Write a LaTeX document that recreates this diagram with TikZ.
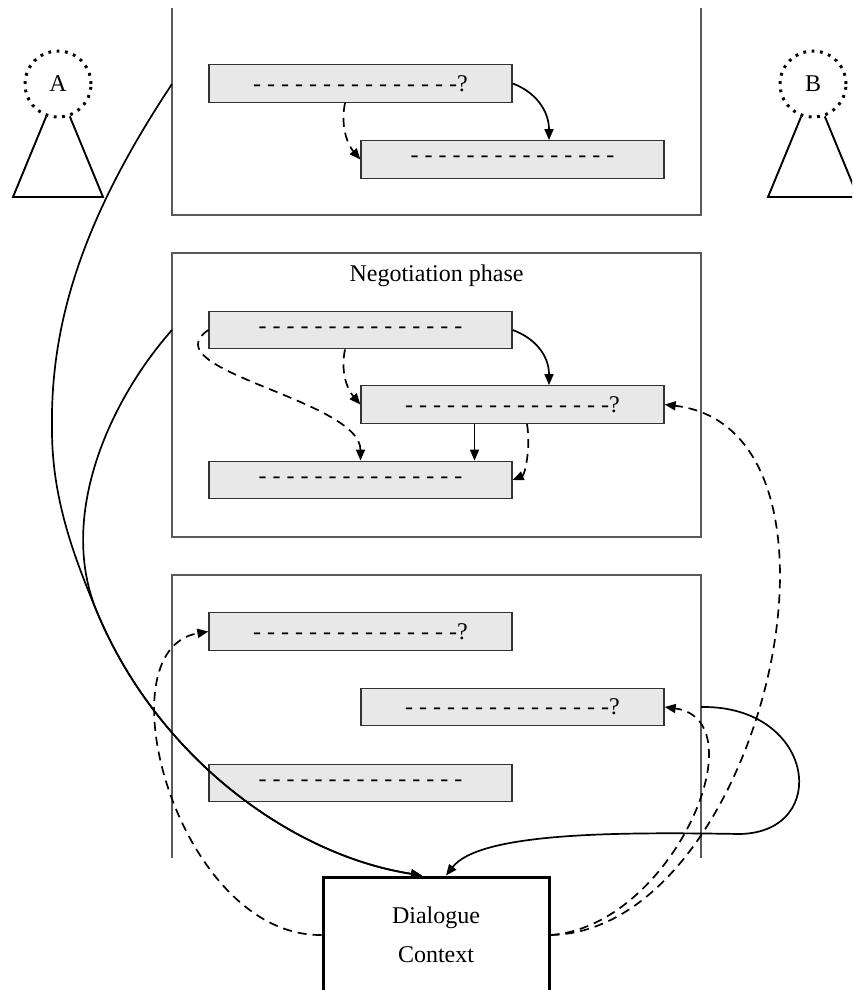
\documentclass[tikz,border=0pt]{standalone}
\usepackage{fontspec}
\setmainfont{Liberation Serif}
\usetikzlibrary{arrows.meta,calc}
\newcommand\dshq{- - - - - - - - - - - - - - -?}
\newcommand\dshn{- - - - - - - - - - - - - - -}
\begin{document}
\begin{tikzpicture}[x=0.5pt,y=-0.5pt,
  every node/.style={font=\fontsize{12}{14.4}\selectfont},
  panel/.style={draw=black!65,line width=0.55pt},
  bar/.style={draw=black!80,fill=black!9,line width=0.65pt,minimum width=151.5pt,minimum height=18.75pt,inner sep=0pt},
  conn/.style={line width=0.85pt},
  dconn/.style={conn,dash pattern=on 4.5pt off 3pt},
  arr/.style={-{Triangle[length=5.5pt,width=4.5pt]}},
  agent/.style={circle,draw,line width=1.5pt,dash pattern=on 1.4pt off 2.8pt,minimum size=33pt,inner sep=0pt},
]
\useasboundingbox (0,0) rectangle (852,990);
\clip (0,0) rectangle (852,990);

% agents
\node[agent] (A) at (58,84) {A};
\node[agent] (B) at (813,84) {B};
\draw[line width=0.95pt] (A.-110) -- (13,197) -- (103,197) -- (A.-70);
\draw[line width=0.95pt] (B.-110) -- (768,197) -- (858,197) -- (B.-70);

% panels
\draw[panel] (172,8) -- (172,215) -- (701,215) -- (701,8);
\node[panel,rectangle,minimum width=264.5pt,minimum height=142pt,inner sep=0pt,outer sep=0pt] (mid) at (436.5,395) {};
\node (title) at (436.5,276) {Negotiation phase};
\draw[panel] (172,858) -- (172,575) -- (701,575) -- (701,858);
\coordinate (topL) at (172,84);
\coordinate (midL) at (172,330);
\coordinate (botR) at (701,707);

% bars
\node[bar] (T1) at (360.5,83.5) {\dshq};
\node[bar] (T2) at (512.5,159.5) {\dshn};
\node[bar] (M1) at (360.5,330) {\dshn};
\node[bar] (M2) at (512.5,404.5) {\dshq};
\node[bar] (M3) at (360.5,480) {\dshn};
\node[bar] (B1) at (360.5,631.5) {\dshq};
\node[bar] (B2) at (512.5,707) {\dshq};
\node[bar] (B3) at (360.5,783) {\dshn};

% dialogue context
\node[draw,line width=1.5pt,minimum width=113pt,minimum height=58pt,align=center,font=\fontsize{12}{19.5}\selectfont] (dc) at (436,935) {Dialogue\\Context};

% top panel connectors
\draw[conn,arr] (T1.east) .. controls +(22,8) and +(0,-30) .. ($(T2.north)+(36.5,0)$);
\draw[dconn,arr] ($(T1.south)+(-15.5,0)$) .. controls +(-5,25) and +(-12,-14) .. (T2.west);

% middle panel connectors
\draw[conn,arr] (M1.east) .. controls +(22,8) and +(0,-30) .. ($(M2.north)+(36.5,0)$);
\draw[dconn,arr] ($(M1.south)+(-15.5,0)$) .. controls +(-5,25) and +(-12,-14) .. (M2.west);
\draw[dconn,arr] (M1.west) .. controls +(-59,40) and +(0,-61) .. (M3.north);
\coordinate (m2s) at ($(M2.south)+(-38,0)$);
\draw[conn,arr] (m2s) -- (m2s |- M3.north);
\draw[dconn,arr] ($(M2.south)+(14.5,0)$) .. controls +(4,25) and +(12,-5) .. (M3.east);

% dialogue context links
\draw[dconn,arr] (dc.east) .. controls +(211,-3.5) and +(212,25.5) .. (M2.east);
\draw[dconn,arr] (dc.east) .. controls +(121,-8.5) and +(96,13) .. (B2.east);
\draw[dconn,arr] (dc.west) .. controls +(-143,1.5) and +(-109,18.5) .. (B1.west);

\draw[conn,arr] (topL) .. controls (85,215) and (50,320) .. (52,430)
  .. controls (52,500) and (75,559) .. (97,612)
  .. controls (157,756) and (290,855) .. ($(dc.north)+(-14,0)$);
\draw[conn,arr] (midL) .. controls (110,400) and (57,516) .. (97,612)
  .. controls (157,756) and (290,855) .. ($(dc.north)+(-14,0)$);
\draw[conn,arr] (botR) .. controls (815,705) and (832,832) .. (740,834)
  .. controls (620,832) and (480,832) .. ($(dc.north)+(10,0)$);
\end{tikzpicture}
\end{document}
